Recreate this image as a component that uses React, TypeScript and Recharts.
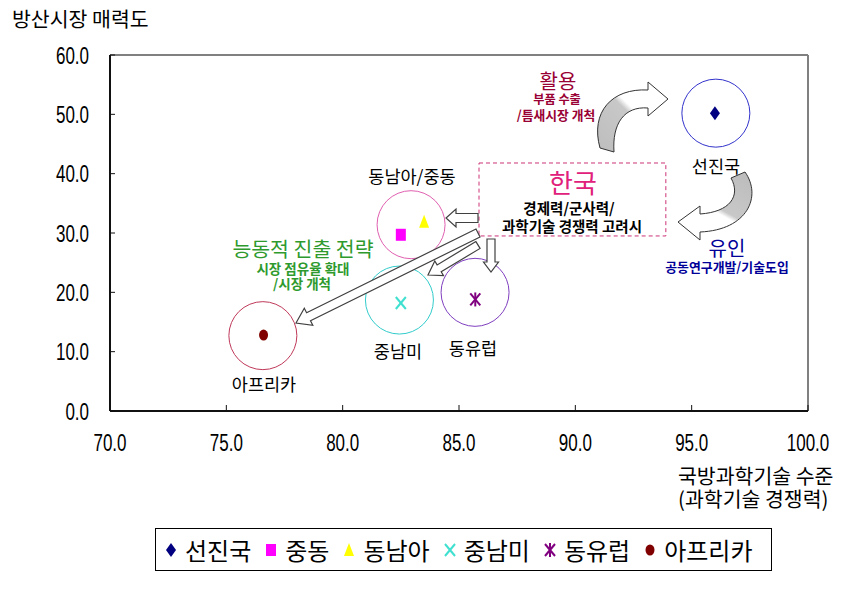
import React from 'react';
import {
  ScatterChart,
  Scatter,
  XAxis,
  YAxis,
  ReferenceDot,
  ReferenceArea,
  ReferenceLine,
} from 'recharts';

// series: one point per region
const regions = ['선진국', '중동', '동남아', '중남미', '동유럽', '아프리카'];
const techLevel = [96.0, 82.5, 83.5, 82.5, 85.7, 76.6];
const attractiveness = [50.2, 29.7, 31.9, 18.2, 18.8, 12.8];
const markerKinds = ['diamond', 'square', 'triangle', 'x', 'asterisk', 'dot'];
const markerColors = ['#000080', '#FF00FF', '#FFFF00', '#40E0D0', '#800080', '#800000'];

// ring around each market group
const groupNames = ['선진국', '동남아/중동', '중남미', '동유럽', '아프리카'];
const groupX = [96.04, 82.94, 82.44, 85.69, 76.57];
const groupY = [50.2, 31.4, 18.7, 20.0, 12.7];
const groupColors = ['#3333CC', '#E060B0', '#33CCCC', '#7F3FBF', '#C0395A'];

const xTicks = [70, 75, 80, 85, 90, 95, 100];
const yTicks = [0, 10, 20, 30, 40, 50, 60];

const KR = '"Noto Sans CJK KR", "Noto Sans", sans-serif';
const NUM = '"Liberation Sans", Arial, sans-serif';

const Marker = ({ kind, cx, cy, color }: any) => {
  switch (kind) {
    case 'diamond':
      return <polygon points={`${cx},${cy - 7} ${cx + 5},${cy} ${cx},${cy + 7} ${cx - 5},${cy}`} fill={color} />;
    case 'square':
      return <rect x={cx - 5} y={cy - 6} width={10} height={12} fill={color} />;
    case 'triangle':
      return <polygon points={`${cx},${cy - 7} ${cx + 5},${cy + 6} ${cx - 5},${cy + 6}`} fill={color} />;
    case 'x':
      return (
        <g stroke={color} strokeWidth={2}>
          <line x1={cx - 5} y1={cy - 6} x2={cx + 5} y2={cy + 6} />
          <line x1={cx + 5} y1={cy - 6} x2={cx - 5} y2={cy + 6} />
        </g>
      );
    case 'asterisk':
      return (
        <g stroke={color} strokeWidth={2}>
          <line x1={cx - 5} y1={cy - 6} x2={cx + 5} y2={cy + 6} />
          <line x1={cx + 5} y1={cy - 6} x2={cx - 5} y2={cy + 6} />
          <line x1={cx} y1={cy - 7} x2={cx} y2={cy + 7} />
        </g>
      );
    default:
      return <ellipse cx={cx} cy={cy} rx={4.5} ry={5.5} fill={color} />;
  }
};

const XTick = ({ x, y, payload }: any) => (
  <g transform={`translate(${x},${y}) scale(0.85,1.2)`}>
    <text x={0} y={0} textAnchor="middle" dominantBaseline="central" fontFamily={NUM} fontSize={20} fill="#000">
      {Number(payload.value).toFixed(1)}
    </text>
  </g>
);

const YTick = ({ x, y, payload }: any) => (
  <g transform={`translate(${x},${y}) scale(0.85,1.2)`}>
    <text x={0} y={0} textAnchor="end" dominantBaseline="central" fontFamily={NUM} fontSize={20} fill="#000">
      {Number(payload.value).toFixed(1)}
    </text>
  </g>
);

function blockArrow(x1: number, y1: number, x2: number, y2: number, bw: number, hw: number, hl: number) {
  const len = Math.hypot(x2 - x1, y2 - y1);
  const ux = (x2 - x1) / len;
  const uy = (y2 - y1) / len;
  const px = -uy;
  const py = ux;
  const bx = x2 - ux * hl;
  const by = y2 - uy * hl;
  const pts = [
    [x1 + (px * bw) / 2, y1 + (py * bw) / 2],
    [bx + (px * bw) / 2, by + (py * bw) / 2],
    [bx + (px * hw) / 2, by + (py * hw) / 2],
    [x2, y2],
    [bx - (px * hw) / 2, by - (py * hw) / 2],
    [bx - (px * bw) / 2, by - (py * bw) / 2],
    [x1 - (px * bw) / 2, y1 - (py * bw) / 2],
  ];
  return pts.map((p) => p.map((v) => v.toFixed(1)).join(',')).join(' ');
}

const Annotations = () => (
  <svg width={861} height={589} style={{ position: 'absolute', left: 0, top: 0, pointerEvents: 'none' }}>
    <defs>
      <linearGradient id="g1" x1="0" y1="1" x2="1" y2="0">
        <stop offset="0" stopColor="#bdbdbd" />
        <stop offset="0.5" stopColor="#c8c8c8" />
        <stop offset="0.56" stopColor="#ffffff" />
      </linearGradient>
      <linearGradient id="g2" x1="0.8" y1="0" x2="0.2" y2="1">
        <stop offset="0" stopColor="#bdbdbd" />
        <stop offset="0.5" stopColor="#c8c8c8" />
        <stop offset="0.56" stopColor="#ffffff" />
      </linearGradient>
    </defs>
    <text x={12} y={18} dominantBaseline="central" fontFamily={KR} fontSize={20.5} fill="#000">방산시장 매력도</text>
    <text x={678} y={475} dominantBaseline="central" fontFamily={KR} fontSize={20.5} fill="#000">국방과학기술 수준</text>
    <text x={678} y={498} dominantBaseline="central" fontFamily={KR} fontSize={20.5} fill="#000">(과학기술 경쟁력)</text>

    {/* group labels */}
    <g fontFamily={KR} fontSize={17.5} fill="#000" textAnchor="middle" dominantBaseline="central">
      <text x={716} y={165}>{groupNames[0]}</text>
      <text x={412} y={175}>{groupNames[1]}</text>
      <text x={398} y={350}>{groupNames[2]}</text>
      <text x={473} y={347}>{groupNames[3]}</text>
      <text x={264} y={383}>{groupNames[4]}</text>
    </g>

    {/* curved arrows */}
    <path
      d="M 600 148 C 590 112, 612 88, 648 90 L 648 82 L 668 99 L 648 116 L 648 108 C 624 106, 612 124, 614 152 Z"
      fill="url(#g1)" stroke="#333" strokeWidth={1}
    />
    <path
      d="M 745 172 C 762 196, 748 230, 700 232 L 700 240 L 678 222 L 700 206 L 700 214 C 730 212, 741 196, 731 178 Z"
      fill="url(#g2)" stroke="#333" strokeWidth={1}
    />

    {/* block arrows */}
    <g fill="#fff" stroke="#404040" strokeWidth={1.2}>
      <polygon points={blockArrow(478, 218, 446, 218, 9, 18, 10)} />
      <polygon points={blockArrow(478, 233, 296, 323, 9, 19, 14)} />
      <polygon points={blockArrow(478, 245, 428, 275, 8, 17, 13)} />
      <polygon points={blockArrow(491, 239, 491, 272, 8, 15, 10)} />
    </g>

    {/* notes */}
    <g textAnchor="middle" dominantBaseline="central" fontFamily={KR}>
      <text x={558} y={80} fontSize={20} fill="#990033">활용</text>
      <text x={557} y={99} fontSize={12.2} fontWeight="bold" fill="#990033">부품 수출</text>
      <text x={556} y={114} fontSize={12.8} fontWeight="bold" fill="#990033">/틈새시장 개척</text>

      <text x={573} y={181} fontSize={26} fill="#E0207A">한국</text>
      <text x={569} y={207} fontSize={14.5} fontWeight="bold" fill="#000">경제력/군사력/</text>
      <text x={572} y={225} fontSize={14.5} fontWeight="bold" fill="#000">과학기술 경쟁력 고려시</text>

      <text x={727} y={247} fontSize={20} fill="#000099">유인</text>
      <text x={727} y={266} fontSize={12.9} fontWeight="bold" fill="#000099">공동연구개발/기술도입</text>

      <text x={303} y={248} fontSize={20.5} fill="#2E9A2E">능동적 진출 전략</text>
      <text x={303} y={268} fontSize={13.5} fontWeight="bold" fill="#2E9A2E">시장 점유율 확대</text>
      <text x={302} y={283} fontSize={13.5} fontWeight="bold" fill="#2E9A2E">/시장 개척</text>
    </g>
  </svg>
);

const LegendBox = () => (
  <div
    style={{
      position: 'absolute',
      left: 155,
      top: 528,
      width: 606,
      height: 41,
      border: '1px solid #000',
      display: 'flex',
      alignItems: 'center',
      paddingLeft: 9,
      boxSizing: 'content-box',
      fontFamily: KR,
      fontSize: 24,
      color: '#000',
      whiteSpace: 'nowrap',
    }}
  >
    {regions.map((name, i) => (
      <div key={name} style={{ display: 'flex', alignItems: 'center', marginRight: 14 }}>
        <svg width={12} height={18} style={{ marginRight: 8 }}>
          <Marker kind={markerKinds[i]} cx={6} cy={9} color={markerColors[i]} />
        </svg>
        <span style={{ lineHeight: '26px' }}>{name}</span>
      </div>
    ))}
  </div>
);

const App = () => {
  return (
    <div style={{ position: 'absolute', left: 0, top: 0, width: 861, height: 589, background: '#fff' }}>
      <ScatterChart width={861} height={589} margin={{ top: 55, right: 53, left: 50, bottom: 148 }}>
        <XAxis
          type="number"
          dataKey="x"
          domain={[70, 100]}
          ticks={xTicks}
          interval={0}
          height={30}
          tickSize={-6}
          tickMargin={37}
          tick={<XTick />}
          axisLine={{ stroke: '#111', strokeWidth: 2 }}
          tickLine={{ stroke: '#111', strokeWidth: 1 }}
          allowDataOverflow
        />
        <YAxis
          type="number"
          dataKey="y"
          domain={[0, 60]}
          ticks={yTicks}
          interval={0}
          width={60}
          tickSize={-5}
          tickMargin={26}
          tick={<YTick />}
          axisLine={{ stroke: '#111', strokeWidth: 2 }}
          tickLine={{ stroke: '#111', strokeWidth: 1 }}
          allowDataOverflow
        />
        <ReferenceLine y={60} stroke="#808080" strokeWidth={2} />
        <ReferenceLine x={100} stroke="#808080" strokeWidth={2} />
        <ReferenceArea
          x1={85.86}
          x2={93.89}
          y1={29.5}
          y2={41.8}
          fill="none"
          stroke="#CC3377"
          strokeDasharray="4 3"
          strokeWidth={1}
        />
        {groupNames.map((g, i) => (
          <ReferenceDot
            key={g}
            x={groupX[i]}
            y={groupY[i]}
            r={34}
            fill="none"
            stroke={groupColors[i]}
            strokeWidth={1}
          />
        ))}
        {regions.map((name, i) => (
          <Scatter
            key={name}
            name={name}
            data={[{ x: techLevel[i], y: attractiveness[i] }]}
            isAnimationActive={false}
            shape={(p: any) => <Marker kind={markerKinds[i]} cx={p.cx} cy={p.cy} color={markerColors[i]} />}
          />
        ))}
      </ScatterChart>
      <Annotations />
      <LegendBox />
    </div>
  );
};

export default App;
